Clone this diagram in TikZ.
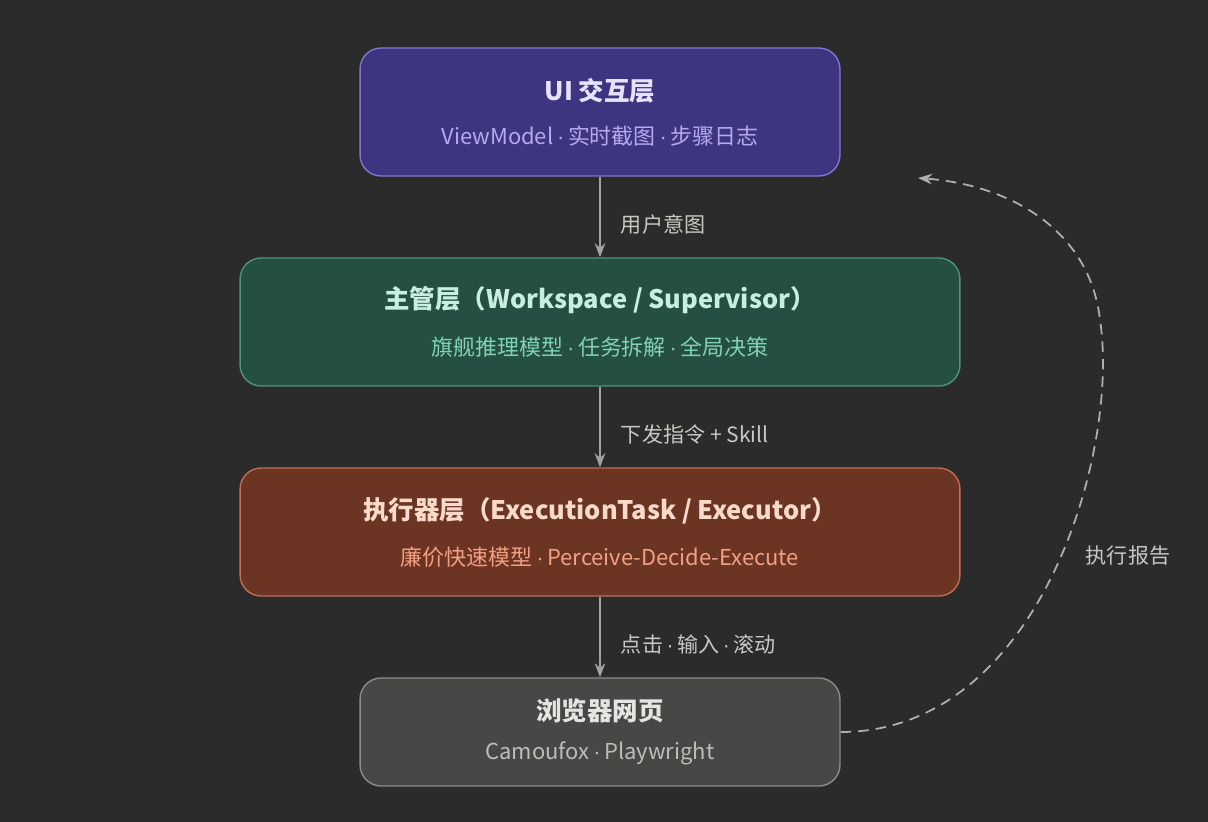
\documentclass[tikz,border=0pt]{standalone}
\usepackage{fontspec}
\setmainfont{Noto Sans CJK SC}
\newfontfamily\latfont{Liberation Sans}
\newcommand{\sep}{{\latfont\,·\,}}
\usetikzlibrary{positioning, arrows.meta}
\definecolor{bg}{HTML}{2B2B2B}
\definecolor{arr}{HTML}{A3A29C}
\definecolor{lbltext}{HTML}{C8C8C2}
\definecolor{uifill}{HTML}{3D3580}\definecolor{uiline}{HTML}{8078D0}
\definecolor{uititle}{HTML}{E6E2FF}\definecolor{uisub}{HTML}{B4AAF2}
\definecolor{supfill}{HTML}{244F42}\definecolor{supline}{HTML}{4E937A}
\definecolor{suptitle}{HTML}{C8EEDD}\definecolor{supsub}{HTML}{80D2B2}
\definecolor{exefill}{HTML}{6B3423}\definecolor{exeline}{HTML}{C26E52}
\definecolor{exetitle}{HTML}{F8DACB}\definecolor{exesub}{HTML}{F2A083}
\definecolor{webfill}{HTML}{474745}\definecolor{webline}{HTML}{8A8A86}
\definecolor{webtitle}{HTML}{E4E4E0}\definecolor{websub}{HTML}{BDBDB8}
\begin{document}
\begin{tikzpicture}[x=0.02cm, y=-0.02cm, >={Stealth[length=8pt]},
  layer/.style={draw, rounded corners=12pt, line width=0.8pt, align=center, inner sep=0pt},
  lbl/.style={text=lbltext, font=\fontsize{12}{14}\selectfont, anchor=west}]
\fill[bg] (0,0) rectangle (1208,822);

\node[layer, fill=uifill, draw=uiline, minimum width=9.6cm, minimum height=2.56cm] (ui) at (600,112)
  {{\fontsize{14.5}{18}\selectfont\bfseries\color{uititle}UI 交互层}\\[12pt]
   {\fontsize{12.5}{15}\selectfont\color{uisub}ViewModel\sep 实时截图\sep 步骤日志}};
\node[layer, fill=supfill, draw=supline, minimum width=14.4cm, minimum height=2.56cm] (sup) at (600,322)
  {{\fontsize{14.5}{18}\selectfont\bfseries\color{suptitle}主管层（Workspace / Supervisor）}\\[12pt]
   {\fontsize{12.5}{15}\selectfont\color{supsub}旗舰推理模型\sep 任务拆解\sep 全局决策}};
\node[layer, fill=exefill, draw=exeline, minimum width=14.4cm, minimum height=2.56cm] (exe) at (600,532)
  {{\fontsize{14.5}{18}\selectfont\bfseries\color{exetitle}执行器层（ExecutionTask / Executor）}\\[12pt]
   {\fontsize{12.5}{15}\selectfont\color{exesub}廉价快速模型\sep Perceive-Decide-Execute}};
\node[layer, fill=webfill, draw=webline, minimum width=9.6cm, minimum height=2.16cm] (web) at (600,732)
  {{\fontsize{14.5}{18}\selectfont\bfseries\color{webtitle}浏览器网页}\\[10pt]
   {\fontsize{12.5}{15}\selectfont\color{websub}Camoufox\sep Playwright}};

\draw[->, arr, line width=1.2pt] (ui) -- node[lbl, right=8pt, yshift=-4pt] {用户意图} (sup);
\draw[->, arr, line width=1.2pt] (sup) -- node[lbl, right=8pt, yshift=-4pt] {下发指令 + Skill} (exe);
\draw[->, arr, line width=1.2pt] (exe) -- node[lbl, right=8pt, yshift=-4pt] {点击\sep 输入\sep 滚动} (web);

\coordinate (ret) at (918,178);
\draw[->, arr!85, line width=1pt, dash pattern=on 6pt off 4pt]
  (web.east) .. controls (1040,732) and (1120,450) .. (1100,320)
  .. controls (1090,230) and (1010,185) .. (ret);
\node[text=lbltext, fill=bg, font=\fontsize{12}{14}\selectfont] (rep) at (1128,556) {执行报告};
\end{tikzpicture}
\end{document}
